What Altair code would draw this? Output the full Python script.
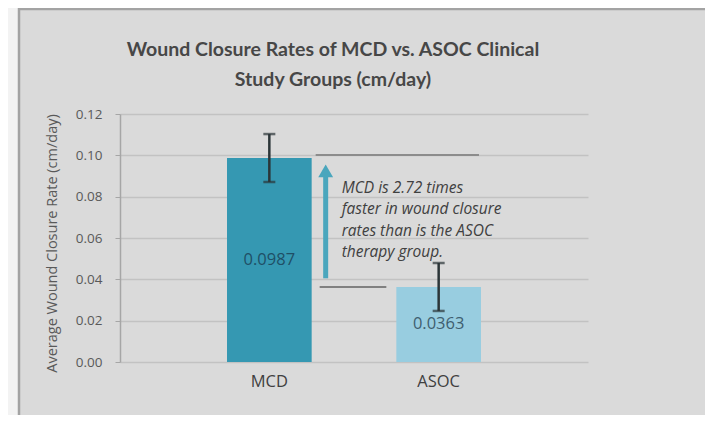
import altair as alt
import pandas as pd

# ---- data ----
categories = ["MCD", "ASOC"]
values = [0.0987, 0.0363]
errors = [0.0116, 0.0116]
value_labels = ["0.0987", "0.0363"]
bar_colors = ["#3598b2", "#98cde0"]
label_colors = ["#1f4f66", "#3f5f70"]

title_lines = ["Wound Closure Rates of MCD vs. ASOC Clinical", "Study Groups (cm/day)"]
y_title = "Average Wound Closure Rate (cm/day)"
y_ticks = [0.00, 0.02, 0.04, 0.06, 0.08, 0.10, 0.12]

note_lines = ["MCD is 2.72 times", "faster in wound closure",
              "rates than is the ASOC", "therapy group."]
note_y = 0.0842
arrow_from = 0.0405
arrow_to = 0.0925

FONT = "Open Sans"
TFONT = "Lato"

df = pd.DataFrame({
    "cat": categories,
    "value": values,
    "lo": [v - e for v, e in zip(values, errors)],
    "hi": [v + e for v, e in zip(values, errors)],
    "half": [v / 2 for v in values],
    "label": value_labels,
    "color": bar_colors,
    "lcolor": label_colors,
})

xscale = alt.Scale(domain=categories, paddingInner=0.5, paddingOuter=0.632)
yscale = alt.Scale(domain=[0, 0.12], nice=False)

base = alt.Chart(df)

bars = base.mark_bar().encode(
    x=alt.X("cat:N", scale=xscale, sort=categories, title=None,
            axis=alt.Axis(labelAngle=0, domain=False, ticks=False, labelPadding=11,
                          labelFontSize=16.5, labelColor="#404040", labelFont=FONT)),
    y=alt.Y("value:Q", scale=yscale, title=y_title,
            axis=alt.Axis(values=y_ticks, format=".2f", grid=True, gridColor="#c2c2c2",
                          gridWidth=1.5, domainColor="#a6a6a6", domainWidth=1.5,
                          tickColor="#a6a6a6", tickSize=5, labelPadding=13,
                          labelFontSize=13.5, labelColor="#595959", labelFont=FONT,
                          titleFont=FONT, titleFontSize=14.5, titleFontWeight="normal",
                          titleColor="#595959", titleX=-68, titleY=129,
                          titleBaseline="middle", titleAlign="center")),
    color=alt.Color("color:N", scale=None),
)

err_rule = base.mark_rule(color="#2b3538", strokeWidth=2.5).encode(
    x=alt.X("cat:N", scale=xscale, sort=categories),
    y="lo:Q", y2="hi:Q",
)
err_caps_hi = base.mark_tick(color="#2b3538", size=12, thickness=2.5).encode(
    x=alt.X("cat:N", scale=xscale, sort=categories), y="hi:Q")
err_caps_lo = base.mark_tick(color="#2b3538", size=12, thickness=2.5).encode(
    x=alt.X("cat:N", scale=xscale, sort=categories), y="lo:Q")

val_text = base.mark_text(fontSize=16.5, font=FONT, baseline="middle").encode(
    x=alt.X("cat:N", scale=xscale, sort=categories),
    y="half:Q",
    text="label:N",
    color=alt.Color("lcolor:N", scale=None),
)

ann = pd.DataFrame({"a": [categories[0]], "b": [categories[1]],
                    "top": [values[0]], "bottom": [values[1]],
                    "af": [arrow_from], "at": [arrow_to], "ny": [note_y]})
annb = alt.Chart(ann)

top_line = annb.mark_rule(color="#8c8c8c", strokeWidth=2, xOffset=4, x2Offset=-2,
                          yOffset=-3).encode(
    x=alt.X("a:N", scale=xscale, bandPosition=1),
    x2=alt.X2("b:N", bandPosition=1),
    y="top:Q",
)
bot_line = annb.mark_rule(color="#808080", strokeWidth=2, xOffset=8, x2Offset=-10).encode(
    x=alt.X("a:N", scale=xscale, bandPosition=1),
    x2=alt.X2("b:N", bandPosition=0),
    y="bottom:Q",
)
arrow_shaft = annb.mark_rule(color="#4aa6bd", strokeWidth=5, xOffset=14).encode(
    x=alt.X("a:N", scale=xscale, bandPosition=1),
    y="af:Q", y2="at:Q",
)
arrow_head = annb.mark_point(shape="triangle-up", filled=True, size=220,
                             color="#4aa6bd", opacity=1, xOffset=14).encode(
    x=alt.X("a:N", scale=xscale, bandPosition=1),
    y="at:Q",
)
note = annb.mark_text(align="left", baseline="middle", fontSize=15.5, font=FONT,
                      fontStyle="italic", color="#404040", lineHeight=21.3,
                      text=note_lines, xOffset=30).encode(
    x=alt.X("a:N", scale=xscale, bandPosition=1),
    y="ny:Q",
)

# frame decoration (left strip + border)
frame = pd.DataFrame({"k": [0]})
fb = alt.Chart(frame)
left_strip = fb.mark_rect(color="#f3f3f3").encode(
    x=alt.value(-112), x2=alt.value(-102), y=alt.value(-106), y2=alt.value(301))
left_border = fb.mark_rule(color="#a3a3a3", strokeWidth=2.5).encode(
    x=alt.value(-101), y=alt.value(-106), y2=alt.value(301))
top_border = fb.mark_rule(color="#a3a3a3", strokeWidth=2.5).encode(
    x=alt.value(-102), x2=alt.value(585), y=alt.value(-105))

chart = alt.layer(
    left_strip, left_border, top_border,
    bars, err_rule, err_caps_hi, err_caps_lo, val_text,
    top_line, bot_line, arrow_shaft, arrow_head, note,
).properties(
    width=468, height=248,
    autosize=alt.AutoSizeParams(type="none"),
    padding={"left": 112, "top": 106, "right": 117, "bottom": 53},
    background="#dadada",
    title=alt.TitleParams(text=title_lines, font=TFONT, fontSize=19.5, fontWeight="bold",
                          color="#474747", anchor="middle", frame="group", dx=-21,
                          offset=-84, lineHeight=30),
).configure_view(stroke=None)

chart.save("out.html", embed_options={"renderer": "svg", "actions": False})
